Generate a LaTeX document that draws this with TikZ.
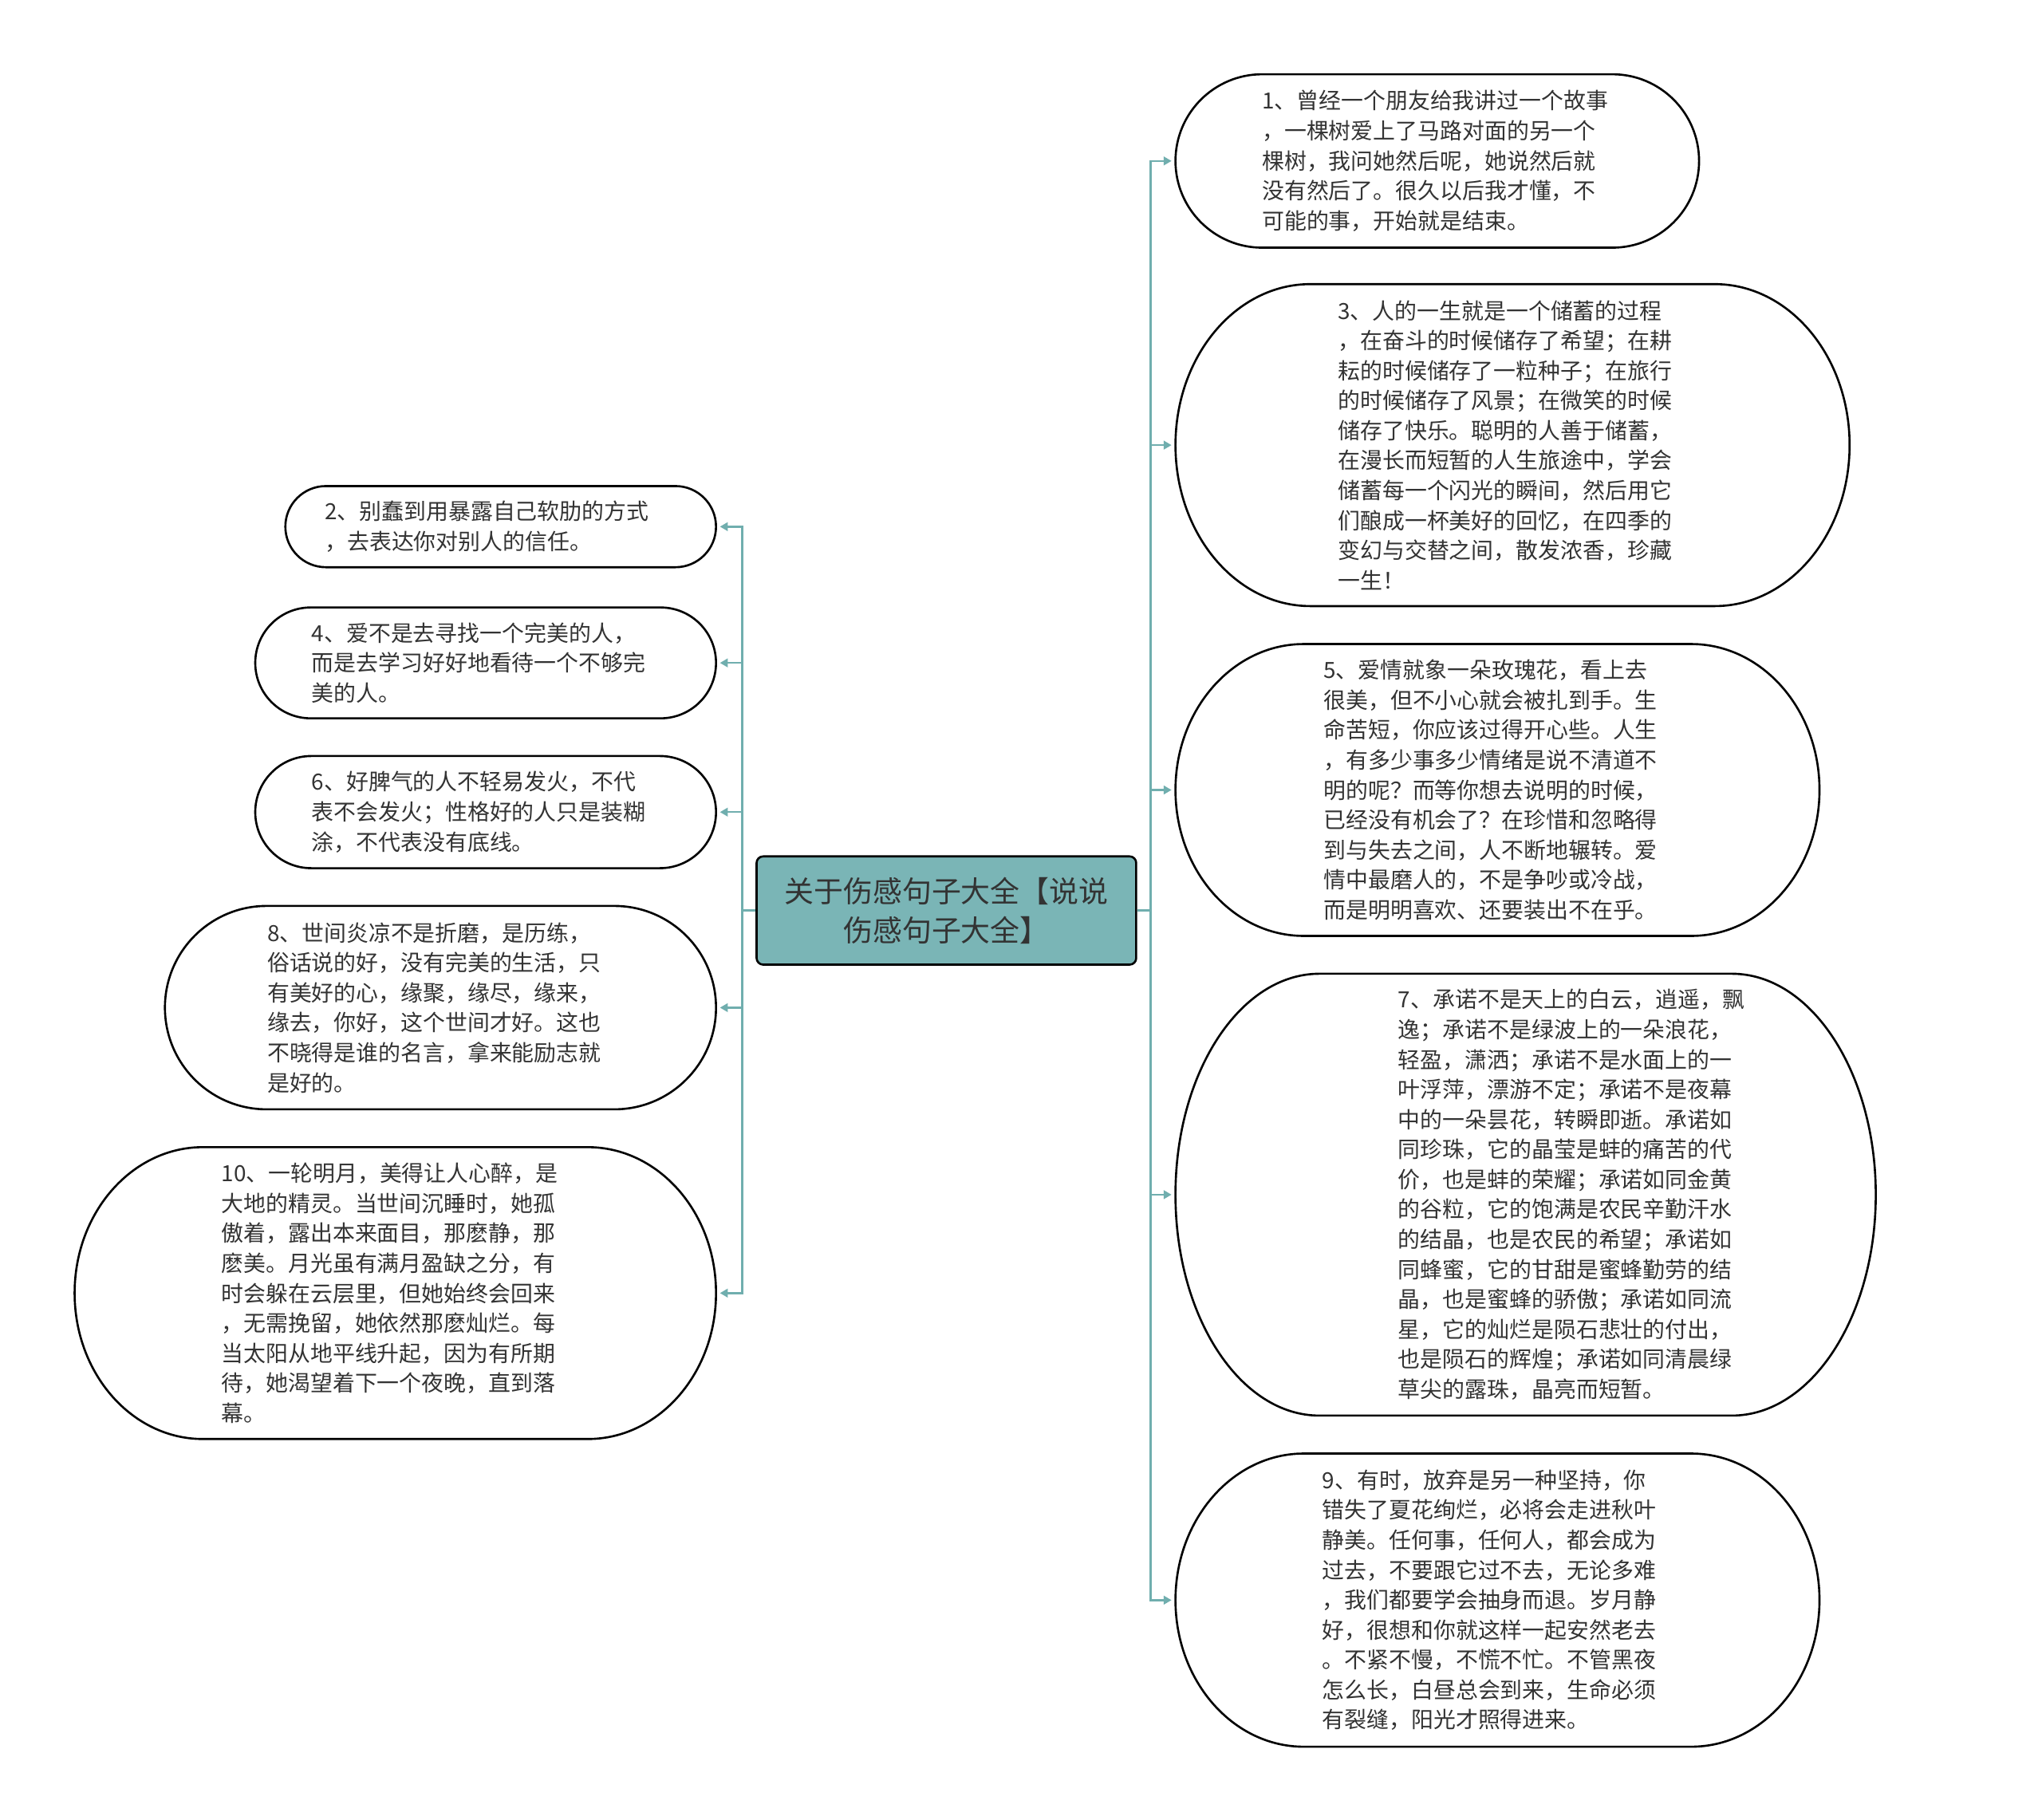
\documentclass[tikz,border=0pt]{standalone}
\usepackage{fontspec}
\newfontfamily\cjk{Noto Sans CJK SC}
\usetikzlibrary{arrows.meta}
\definecolor{linkc}{HTML}{70AEAE}
\definecolor{cfill}{HTML}{7AB5B6}
\definecolor{ink}{HTML}{333333}
\newcommand\bubbleoutline[3]{%
  \draw[bubline] ([xshift=#2pt]#1.north west) -- ([xshift=-#2pt]#1.north east)
    arc[start angle=90,end angle=0,x radius=#2pt,y radius=#3pt]
    arc[start angle=0,end angle=-90,x radius=#2pt,y radius=#3pt]
    -- ([xshift=#2pt]#1.south west)
    arc[start angle=270,end angle=180,x radius=#2pt,y radius=#3pt]
    arc[start angle=180,end angle=90,x radius=#2pt,y radius=#3pt] -- cycle;}
\begin{document}
\begin{tikzpicture}[x=1pt,y=1pt,
  holder/.style={rectangle,inner sep=0pt,outer sep=0pt},
  bubline/.style={draw=black,line width=1.6pt,fill=white},
  txt/.style={inner sep=0pt,anchor=west,align=left,text=ink,font=\cjk\fontsize{17pt}{22.9pt}\selectfont},
  root/.style={rectangle,draw=black,line width=1.6pt,fill=cfill,rounded corners=5pt,inner sep=0pt,
    align=center,text=ink,font=\cjk\fontsize{22.5pt}{30pt}\selectfont},
  conn/.style={draw=linkc,line width=1.5pt,-{Triangle[length=6pt,width=6.5pt]},shorten >=3pt}]
\fill[white] (0,0) rectangle (1560,1390);
\useasboundingbox (0,0) rectangle (1560,1390);

% root
\node[root,minimum width=290pt,minimum height=82.7pt] (C) at (723,694.3) {关于伤感句子大全【说说\\伤感句子大全】};

% right holders
\node[holder,minimum width=400pt,minimum height=132.5pt] (n1) at (1098,1267) {};
\node[holder,minimum width=515pt,minimum height=246pt] (n3) at (1155.5,1049.9) {};
\node[holder,minimum width=492pt,minimum height=223pt] (n5) at (1144,786.4) {};
\node[holder,minimum width=535pt,minimum height=337.6pt] (n7) at (1165.5,477.2) {};
\node[holder,minimum width=492pt,minimum height=224pt] (n9) at (1144,167.4) {};
% left holders
\node[holder,minimum width=329pt,minimum height=62pt] (n2) at (382.5,987.6) {};
\node[holder,minimum width=352pt,minimum height=84.7pt] (n4) at (371,883.5) {};
\node[holder,minimum width=352pt,minimum height=85.7pt] (n6) at (371,769.5) {};
\node[holder,minimum width=421pt,minimum height=155.4pt] (n8) at (336.5,620.1) {};
\node[holder,minimum width=490pt,minimum height=223pt] (n10) at (302,402) {};

\bubbleoutline{n1}{66.25}{66.25}
\bubbleoutline{n3}{103}{123}
\bubbleoutline{n5}{98}{111.5}
\bubbleoutline{n7}{110}{168.8}
\bubbleoutline{n9}{98}{112}
\bubbleoutline{n2}{31}{31}
\bubbleoutline{n4}{42.35}{42.35}
\bubbleoutline{n6}{42.85}{42.85}
\bubbleoutline{n8}{77.7}{77.7}
\bubbleoutline{n10}{98}{111.5}

% texts
\node[txt] (t1) at (964,1267) {1、曾经一个朋友给我讲过一个故事\\，一棵树爱上了马路对面的另一个\\棵树，我问她然后呢，她说然后就\\没有然后了。很久以后我才懂，不\\可能的事，开始就是结束。};
\node[txt] (t3) at (1022,1049.9) {3、人的一生就是一个储蓄的过程\\，在奋斗的时候储存了希望；在耕\\耘的时候储存了一粒种子；在旅行\\的时候储存了风景；在微笑的时候\\储存了快乐。聪明的人善于储蓄，\\在漫长而短暂的人生旅途中，学会\\储蓄每一个闪光的瞬间，然后用它\\们酿成一杯美好的回忆，在四季的\\变幻与交替之间，散发浓香，珍藏\\一生！};
\node[txt] (t5) at (1011,786.4) {5、爱情就象一朵玫瑰花，看上去\\很美，但不小心就会被扎到手。生\\命苦短，你应该过得开心些。人生\\，有多少事多少情绪是说不清道不\\明的呢？而等你想去说明的时候，\\已经没有机会了？在珍惜和忽略得\\到与失去之间，人不断地辗转。爱\\情中最磨人的，不是争吵或冷战，\\而是明明喜欢、还要装出不在乎。};
\node[txt] (t7) at (1068,477.2) {7、承诺不是天上的白云，逍遥，飘\\逸；承诺不是绿波上的一朵浪花，\\轻盈，潇洒；承诺不是水面上的一\\叶浮萍，漂游不定；承诺不是夜幕\\中的一朵昙花，转瞬即逝。承诺如\\同珍珠，它的晶莹是蚌的痛苦的代\\价，也是蚌的荣耀；承诺如同金黄\\的谷粒，它的饱满是农民辛勤汗水\\的结晶，也是农民的希望；承诺如\\同蜂蜜，它的甘甜是蜜蜂勤劳的结\\晶，也是蜜蜂的骄傲；承诺如同流\\星，它的灿烂是陨石悲壮的付出，\\也是陨石的辉煌；承诺如同清晨绿\\草尖的露珠，晶亮而短暂。};
\node[txt] (t9) at (1010,167.4) {9、有时，放弃是另一种坚持，你\\错失了夏花绚烂，必将会走进秋叶\\静美。任何事，任何人，都会成为\\过去，不要跟它过不去，无论多难\\，我们都要学会抽身而退。岁月静\\好，很想和你就这样一起安然老去\\。不紧不慢，不慌不忙。不管黑夜\\怎么长，白昼总会到来，生命必须\\有裂缝，阳光才照得进来。};
\node[txt] (t2) at (248,987.6) {2、别蠢到用暴露自己软肋的方式\\，去表达你对别人的信任。};
\node[txt] (t4) at (238,883.5) {4、爱不是去寻找一个完美的人，\\而是去学习好好地看待一个不够完\\美的人。};
\node[txt] (t6) at (238,769.5) {6、好脾气的人不轻易发火，不代\\表不会发火；性格好的人只是装糊\\涂，不代表没有底线。};
\node[txt] (t8) at (204,620.1) {8、世间炎凉不是折磨，是历练，\\俗话说的好，没有完美的生活，只\\有美好的心，缘聚，缘尽，缘来，\\缘去，你好，这个世间才好。这也\\不晓得是谁的名言，拿来能励志就\\是好的。};
\node[txt] (t10) at (169,402) {10、一轮明月，美得让人心醉，是\\大地的精灵。当世间沉睡时，她孤\\傲着，露出本来面目，那麽静，那\\麽美。月光虽有满月盈缺之分，有\\时会躲在云层里，但她始终会回来\\，无需挽留，她依然那麽灿烂。每\\当太阳从地平线升起，因为有所期\\待，她渴望着下一个夜晚，直到落\\幕。};

% connectors
\coordinate (rt) at (879,694.3);
\coordinate (lt) at (567,694.3);
\foreach \n in {n1,n3,n5,n7,n9}{\draw[conn] (C.east) -- (rt) |- (\n.west);}
\foreach \n in {n2,n4,n6,n8,n10}{\draw[conn] (C.west) -- (lt) |- (\n.east);}
\end{tikzpicture}
\end{document}
